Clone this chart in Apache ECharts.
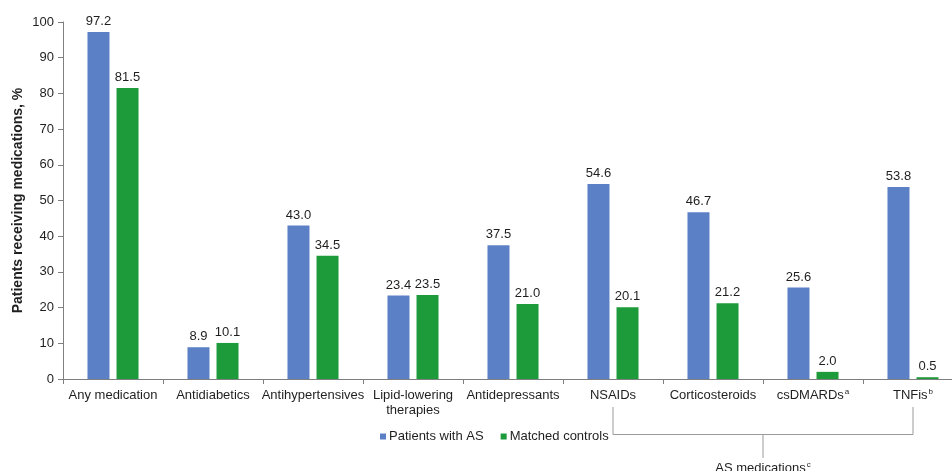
<!DOCTYPE html>
<html>
<head>
<meta charset="utf-8">
<script src="https://cdn.jsdelivr.net/npm/echarts@6/dist/echarts.min.js"></script>
<style>
  html, body { margin: 0; padding: 0; background: #fff; }
  #chart { width: 952px; height: 471px; }
</style>
</head>
<body>
<div id="chart"></div>
<script>
// categories and values
const categories = [
  "Any medication", "Antidiabetics", "Antihypertensives", "Lipid-lowering\ntherapies",
  "Antidepressants", "NSAIDs", "Corticosteroids", "csDMARDs{sup|a}", "TNFis{sup|b}"
];
const patientsAS = [97.2, 8.9, 43.0, 23.4, 37.5, 54.6, 46.7, 25.6, 53.8];
const matchedControls = [81.5, 10.1, 34.5, 23.5, 21.0, 20.1, 21.2, 2.0, 0.5];
const seriesNames = ["Patients with AS", "Matched controls"];
const bracketFrom = "NSAIDs";
const bracketTo = "TNFis{sup|b}";

const BLUE = "#5b80c6";
const GREEN = "#1d9a3a";
const TEXT = "#1f1f1f";
const AXIS = "#7f7f7f";
const FONT = "Liberation Sans, Arial, sans-serif";

const chart = echarts.init(document.getElementById("chart"));

const labelStyle = {
  show: true,
  position: "top",
  distance: 4,
  color: TEXT,
  fontSize: 13,
  fontFamily: FONT,
  formatter: p => p.value.toFixed(1),
};

chart.setOption({
  animation: false,
  backgroundColor: "#fff",
  textStyle: { fontFamily: FONT },
  // the plot runs past the right edge of the picture, as in the reference
  grid: { left: 63, top: 22, width: 900, height: 357, outerBoundsMode: "none", containLabel: false },
  legend: {
    left: 375,
    top: 425,
    itemWidth: 6,
    itemHeight: 6,
    itemGap: 17,
    icon: "rect",
    textStyle: { color: TEXT, fontSize: 13, fontFamily: FONT, padding: [0, 0, 0, -2] },
    data: seriesNames,
  },
  xAxis: {
    type: "category",
    data: categories,
    axisLine: { lineStyle: { color: AXIS } },
    axisTick: { show: true, length: 5, lineStyle: { color: AXIS } },
    axisLabel: {
      interval: 0,
      margin: 9,
      color: TEXT,
      fontSize: 13,
      lineHeight: 15,
      fontFamily: FONT,
      rich: {
        sup: { fontSize: 8, verticalAlign: "top", color: TEXT, padding: [0, 0, 7, 1] },
      },
    },
  },
  yAxis: {
    type: "value",
    min: 0,
    max: 100,
    interval: 10,
    name: "Patients receiving medications, %",
    nameLocation: "middle",
    nameGap: 38,
    nameMoveOverlap: false,
    nameTextStyle: { fontWeight: "bold", fontSize: 14, color: TEXT, fontFamily: FONT },
    axisLine: { show: true, lineStyle: { color: AXIS } },
    axisTick: { show: true, length: 5, lineStyle: { color: AXIS } },
    axisLabel: { color: TEXT, fontSize: 13, fontFamily: FONT, margin: 9 },
    splitLine: { show: false },
  },
  series: [
    {
      name: seriesNames[0],
      type: "bar",
      data: patientsAS,
      barWidth: 22,
      barGap: "32%",
      itemStyle: { color: BLUE },
      label: labelStyle,
    },
    {
      name: seriesNames[1],
      type: "bar",
      data: matchedControls,
      barWidth: 22,
      itemStyle: { color: GREEN },
      label: labelStyle,
    },
  ],
});

// bracket grouping the AS medications, anchored to the category axis
const x1 = chart.convertToPixel({ xAxisIndex: 0 }, bracketFrom);
const x2 = chart.convertToPixel({ xAxisIndex: 0 }, bracketTo);
const xm = (x1 + x2) / 2;
const lineStyle = { stroke: "#9a9a9a", lineWidth: 1 };
chart.setOption({
  graphic: [
    { type: "polyline", shape: { points: [[x1, 407], [x1, 434.5], [x2, 434.5], [x2, 407]] }, style: lineStyle, silent: true },
    { type: "line", shape: { x1: xm, y1: 434.5, x2: xm, y2: 458 }, style: lineStyle, silent: true },
    {
      type: "text",
      x: xm,
      y: 461,
      style: {
        text: "AS medications{sup|c}",
        align: "center",
        fill: TEXT,
        font: "13px " + FONT,
        rich: { sup: { fontSize: 8, verticalAlign: "top", padding: [0, 0, 7, 1], fill: TEXT } },
      },
    },
  ],
});
</script>
</body>
</html>
